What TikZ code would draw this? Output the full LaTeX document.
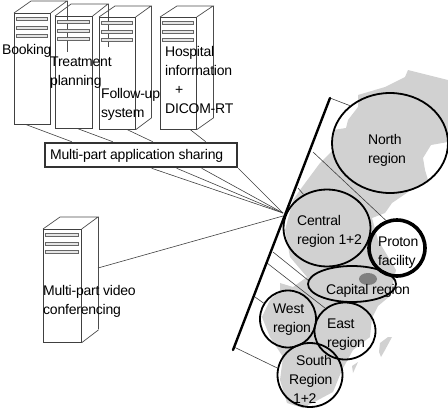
\documentclass[tikz,border=0pt]{standalone}
\usepackage{fontspec}
\setmainfont[LetterSpace=-1.6]{Liberation Sans}
\usetikzlibrary{shapes.geometric}

\begin{document}
\begin{tikzpicture}[
          x=1pt,y=-1pt,
          every node/.style={font=\fontsize{14}{19}\selectfont},
          srvfront/.style={rectangle,draw=black!75,line width=0.7pt,inner sep=0pt,anchor=north west},
          srvline/.style={black!70,line width=0.7pt},
          slot/.style={draw=black!60,fill=black!10,line width=0.5pt},
          link/.style={black!75,line width=0.6pt},
          region/.style={ellipse,draw,line width=1.8pt,inner sep=0pt},
          lbl/.style={inner sep=0pt,anchor=west,align=left},
          land/.style={fill=black!18,draw=none},
        ]
        \path[use as bounding box] (0,0) rectangle (448,410);
        % map
        \fill[land] (408,70) -- (448,80) -- (448,142) -- (431,145) -- (423,158) -- (425,170) -- (428,180)
          -- (411,190) -- (392,203) -- (385,213) -- (372,218) -- (378,240) -- (396,270) -- (390,296)
          -- (378,306) -- (372,318) -- (370,337) -- (353,350) -- (342,370) -- (333,392) -- (303,408)
          -- (287,403) -- (280,380) -- (283,357) -- (270,337) -- (262,317) -- (270,300) -- (280,290)
          -- (280,283) -- (293,287) -- (307,277) -- (290,257) -- (285,230) -- (293,200) -- (300,190)
          -- (320,163) -- (333,150) -- (333,130) -- (346,128) -- (348,120) -- (358,107) -- (358,95)
          -- (385,87) -- (405,77) -- cycle;
        \fill[land] (388,337) -- (392,337) -- (385,350) -- (381,357) -- (379,352) -- (380,343) -- cycle;
        \fill[land] (358,362) -- (353,373) -- (352,366) -- cycle;
        \fill[black!50] (368,279) ellipse (9 and 6);
        % servers
        \foreach \name/\px/\py/\fw/\fh/\dx/\dy/\bh in {
            booking/14/13/36/111/17/12/51,
            treatment/55/16/37/112/16/12/43,
            followup/99/17/36/112/16/11/112,
            hospital/160/17/36/112/17/11/112,
            video/43/229/38/113/17/12/112} {
          \node[srvfront,minimum width=\fw,minimum height=\fh] (\name) at (\px,\py) {};
          \draw[srvline] (\name.north west) -- ++(\dx,-\dy) -- ++(\fw,0) -- (\name.north east);
          \draw[srvline] (\name.north east) ++(\dx,-\dy) -- ++(0,\bh);
          \foreach \sy in {4,13,21}
            \draw[slot] ([shift={(2,\sy)}]\name.north west) rectangle ++(\fw-5,3);
        }
        \draw[srvline] (followup.south east) -- ++(16,-12);
        \draw[srvline] (hospital.south east) -- ++(17,-12);
        \draw[srvline] (video.south east) -- ++(17,-13);
        % sharing box
        \node[rectangle,draw=black!80,line width=2.6pt,fill=white,minimum width=192,minimum height=24,inner sep=0pt] (box) at (141,155) {};
        \node[lbl] (boxtext) at (50,156) {Multi-part application sharing};
        \coordinate (hub) at (283,213);
        \coordinate (hubb) at (283,216);
        \draw[link] ([xshift=-6]booking.south) -- ([xshift=28]box.north west);
        \draw[link] ([xshift=4]treatment.south) -- ([xshift=69]box.north west);
        \draw[link] ([xshift=10]followup.south) -- ([xshift=109]box.north west);
        \draw[link] ([xshift=12]hospital.south) -- ([xshift=162]box.north west);
        \draw[link] ([xshift=108]box.south west) -- (hub);
        \draw[link] ([xshift=133]box.south west) -- (hub);
        \draw[link] ([xshift=158]box.south west) -- (hub);
        \draw[link] (box.south east) -- (hub);
        \coordinate (videoport) at (98,268);
        \draw[link] (videoport) -- (hubb);
        % regions
        \node[region,minimum width=116,minimum height=100] (north) at (390,143) {};
        \node[region,minimum width=87,minimum height=77] (central) at (327,228) {};
        \node[region,line width=3.6pt,minimum width=56,minimum height=56] (proton) at (397,248) {};
        \node[region,minimum width=88,minimum height=36] (capital) at (352,284) {};
        \node[region,minimum width=56,minimum height=57] (west) at (288,319) {};
        \node[region,minimum width=61,minimum height=57] (east) at (345,331) {};
        \node[region,minimum width=65,minimum height=64] (south) at (310,375) {};
        % backbone
        \coordinate (bartop) at (330,98);
        \coordinate (barbot) at (233,350);
        \coordinate (tapb) at (313,152);
        \coordinate (tapc) at (298,188);
        \coordinate (tapd) at (273,252);
        \coordinate (tape) at (267,263);
        \coordinate (tapf) at (255,297);
        \coordinate (tapg) at (234,347);
        \draw[link] (bartop) -- (north.137);
        \draw[link] (tapb) -- (proton.112);
        \draw[link] (tapc) -- (central.125);
        \draw[link] (tapd) -- (capital.175);
        \draw[link] (tape) -- (east.131);
        \draw[link] (tapf) -- (west.147);
        \draw[link] (tapg) -- (south.168);
        \draw[line width=2.4pt,line cap=round] (bartop) -- (barbot);
        % labels
        \node[lbl] (lbooking) at (2,51) {Booking};
        \node[lbl] (ltreatment) at (50,73) {Treatment\\planning};
        \node[lbl] (lfollowup) at (101,104) {Follow-up\\system};
        \node[lbl] (lhospital) at (165,80) {Hospital\\information\\\hspace{10pt}+\\DICOM-RT};
        \node[lbl] (lvideo) at (43,301) {Multi-part video\\conferencing};
        \node[lbl] (lnorth) at (368,150) {North\\region};
        \node[lbl] (lcentral) at (297,231) {Central\\region 1+2};
        \node[lbl] (lproton) at (378,253) {Proton\\facility};
        \node[lbl] (lcapital) at (326,291) {Capital region};
        \node[lbl] (lwest) at (273,320) {West\\region};
        \node[lbl] (least) at (327,335) {East\\region};
        \node[lbl] (lsouth) at (289,379) {\hspace{7pt}South\\Region\\\hspace{4pt}1+2};
      \end{tikzpicture}
\end{document}
